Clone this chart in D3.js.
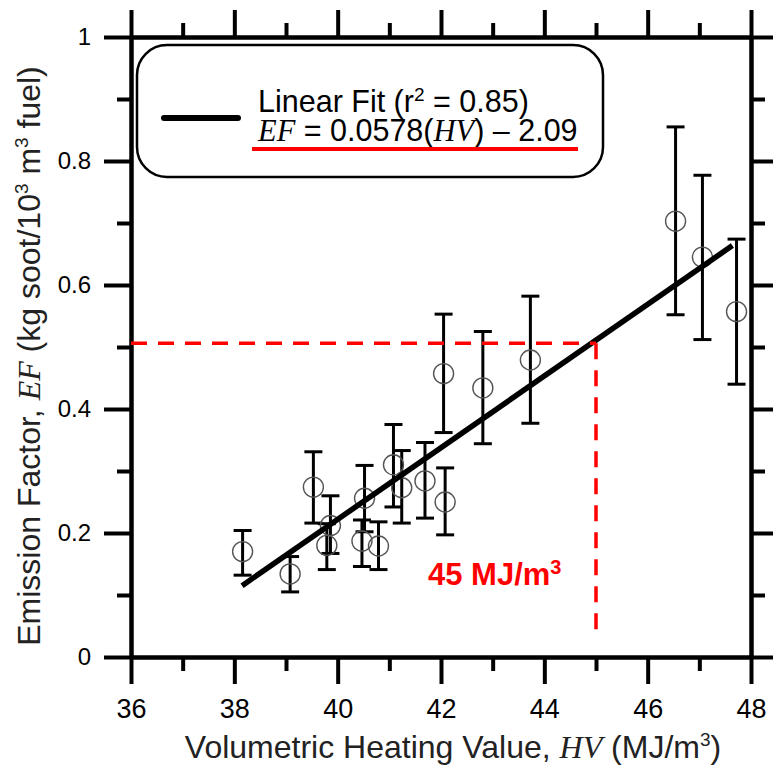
<!DOCTYPE html>
<html>
<head>
<meta charset="utf-8">
<script src="https://cdn.jsdelivr.net/npm/d3@7"></script>
<style>
  body { margin: 0; background: #fff; }
  text { font-family: "Liberation Sans", Arial, sans-serif; }
  .ital { font-family: "Liberation Serif", "Times New Roman", serif; font-style: italic; }
</style>
</head>
<body>
<script>
// heating value (MJ/m3) and emission factor (kg soot / 10^3 m3 fuel)
var hv    = [38.16, 39.08, 39.53, 39.79, 39.86, 40.47, 40.52, 40.79, 41.08, 41.24, 41.69, 42.08, 42.05, 42.81, 43.73, 46.54, 47.06, 47.72];
var ef    = [0.170, 0.134, 0.274, 0.180, 0.212, 0.187, 0.256, 0.179, 0.310, 0.273, 0.284, 0.250, 0.457, 0.434, 0.479, 0.703, 0.645, 0.557];
var efTop = [0.204, 0.162, 0.331, 0.215, 0.260, 0.221, 0.309, 0.218, 0.375, 0.333, 0.346, 0.305, 0.553, 0.525, 0.582, 0.855, 0.777, 0.674];
var efBot = [0.132, 0.105, 0.216, 0.141, 0.167, 0.146, 0.202, 0.141, 0.242, 0.216, 0.224, 0.197, 0.362, 0.344, 0.377, 0.552, 0.512, 0.440];

// linear fit EF = 0.0578(HV) - 2.09
var fitSlope = 0.0578, fitIntercept = -2.09;
var fitRange = [38.15, 47.64];

// marker for 45 MJ/m3
var markHV = 45, markEF = 0.506, markBottom = 0.03;

var xMajor = [36, 38, 40, 42, 44, 46, 48];
var xMinor = [37, 39, 41, 43, 45, 47];
var yMajor = [0, 0.2, 0.4, 0.6, 0.8, 1];
var yMinor = [0.1, 0.3, 0.5, 0.7, 0.9];

var W = 773, H = 765;
var mLeft = 131, mRight = 751, mTop = 37, mBottom = 657;

var svg = d3.select("body").append("svg")
  .attr("width", W)
  .attr("height", H);

var x = d3.scaleLinear().domain([36, 48]).range([mLeft, mRight]);
var y = d3.scaleLinear().domain([0, 1]).range([mBottom, mTop]);

function styleAxis(g) {
  g.select(".domain").attr("stroke", "#000").attr("stroke-width", 4);
  g.selectAll(".tick line").attr("stroke", "#000").attr("stroke-width", 4);
}

var yFmt = function(d) { return d === 0 || d === 1 ? d : d3.format(".1f")(d); };

// minor ticks
svg.append("g").attr("transform", "translate(" + mLeft + ",0)")
  .call(d3.axisLeft(y).tickValues(yMinor).tickSize(14).tickSizeOuter(0).tickFormat(""))
  .call(styleAxis);
svg.append("g").attr("transform", "translate(" + mRight + ",0)")
  .call(d3.axisRight(y).tickValues(yMinor).tickSize(14).tickSizeOuter(0).tickFormat(""))
  .call(styleAxis);
svg.append("g").attr("transform", "translate(0," + mBottom + ")")
  .call(d3.axisBottom(x).tickValues(xMinor).tickSize(14).tickSizeOuter(0).tickFormat(""))
  .call(styleAxis);
svg.append("g").attr("transform", "translate(0," + mTop + ")")
  .call(d3.axisTop(x).tickValues(xMinor).tickSize(14).tickSizeOuter(0).tickFormat(""))
  .call(styleAxis);

// major ticks
var yAx = svg.append("g").attr("transform", "translate(" + mLeft + ",0)")
  .call(d3.axisLeft(y).tickValues(yMajor).tickSize(27).tickSizeOuter(0).tickPadding(13).tickFormat(yFmt))
  .call(styleAxis);
yAx.selectAll("text").attr("font-size", 24).attr("fill", "#000")
  .style("font-family", "'Liberation Sans', Arial, sans-serif");

svg.append("g").attr("transform", "translate(" + mRight + ",0)")
  .call(d3.axisRight(y).tickValues(yMajor).tickSize(27).tickSizeOuter(0).tickFormat(""))
  .call(styleAxis);

var xAx = svg.append("g").attr("transform", "translate(0," + mBottom + ")")
  .call(d3.axisBottom(x).tickValues(xMajor).tickSize(27).tickSizeOuter(0).tickPadding(15))
  .call(styleAxis);
xAx.selectAll("text").attr("font-size", 27).attr("fill", "#000")
  .style("font-family", "'Liberation Sans', Arial, sans-serif");

svg.append("g").attr("transform", "translate(0," + mTop + ")")
  .call(d3.axisTop(x).tickValues(xMajor).tickSize(27).tickSizeOuter(0).tickFormat(""))
  .call(styleAxis);

// data
var pts = hv.map(function(d, i) { return { hv: d, ef: ef[i], hi: efTop[i], lo: efBot[i] }; });

var bars = svg.append("g").selectAll("g").data(pts).enter().append("g");
bars.append("line")
  .attr("x1", function(d) { return x(d.hv); }).attr("x2", function(d) { return x(d.hv); })
  .attr("y1", function(d) { return y(d.hi); }).attr("y2", function(d) { return y(d.lo); })
  .attr("stroke", "#000").attr("stroke-width", 3);
bars.append("line")
  .attr("x1", function(d) { return x(d.hv) - 9; }).attr("x2", function(d) { return x(d.hv) + 9; })
  .attr("y1", function(d) { return y(d.hi); }).attr("y2", function(d) { return y(d.hi); })
  .attr("stroke", "#000").attr("stroke-width", 3);
bars.append("line")
  .attr("x1", function(d) { return x(d.hv) - 9; }).attr("x2", function(d) { return x(d.hv) + 9; })
  .attr("y1", function(d) { return y(d.lo); }).attr("y2", function(d) { return y(d.lo); })
  .attr("stroke", "#000").attr("stroke-width", 3);

svg.append("g").selectAll("circle").data(pts).enter().append("circle")
  .attr("cx", function(d) { return x(d.hv); })
  .attr("cy", function(d) { return y(d.ef); })
  .attr("r", 10)
  .attr("fill", "none")
  .attr("stroke", "#555")
  .attr("stroke-width", 1.4);

// fit line
svg.append("path")
  .datum(fitRange)
  .attr("d", d3.line().x(function(d) { return x(d); }).y(function(d) { return y(fitSlope * d + fitIntercept); }))
  .attr("stroke", "#000").attr("stroke-width", 5.5).attr("fill", "none");

// red dashed guides
svg.append("line")
  .attr("x1", x(36)).attr("x2", x(markHV))
  .attr("y1", y(markEF)).attr("y2", y(markEF))
  .attr("stroke", "#ff0000").attr("stroke-width", 3.5).attr("stroke-dasharray", "16,11");
svg.append("line")
  .attr("x1", x(markHV)).attr("x2", x(markHV))
  .attr("y1", y(markEF)).attr("y2", y(markBottom))
  .attr("stroke", "#ff0000").attr("stroke-width", 3.5).attr("stroke-dasharray", "16,11");

var red = svg.append("text").attr("x", 428).attr("y", 585)
  .attr("fill", "#ff0000").attr("font-size", 31).attr("font-weight", "bold");
red.append("tspan").text("45 MJ/m");
red.append("tspan").attr("font-size", 20).attr("dy", -11).text("3");

// legend
svg.append("rect")
  .attr("x", 137).attr("y", 45).attr("width", 466).attr("height", 132)
  .attr("rx", 30).attr("ry", 30)
  .attr("fill", "#fff").attr("stroke", "#000").attr("stroke-width", 2.5);
svg.append("line")
  .attr("x1", 164).attr("x2", 238).attr("y1", 118).attr("y2", 118)
  .attr("stroke", "#000").attr("stroke-width", 6).attr("stroke-linecap", "round");
var l1 = svg.append("text").attr("x", 258).attr("y", 112).attr("font-size", 30.5);
l1.append("tspan").text("Linear Fit (r");
l1.append("tspan").attr("font-size", 19).attr("dy", -11).text("2");
l1.append("tspan").attr("dy", 11).text(" = 0.85)");
var l2 = svg.append("text").attr("x", 258).attr("y", 141).attr("font-size", 30.5);
l2.append("tspan").attr("class", "ital").text("EF");
l2.append("tspan").text(" = 0.0578(");
l2.append("tspan").attr("class", "ital").text("HV");
l2.append("tspan").text(") \u2013 2.09");
svg.append("line")
  .attr("x1", 252).attr("x2", 578).attr("y1", 149).attr("y2", 149)
  .attr("stroke", "#ff0000").attr("stroke-width", 4);

// axis titles
var xt = svg.append("text").attr("x", 453).attr("y", 758)
  .attr("text-anchor", "middle").attr("font-size", 32).attr("fill", "#222");
xt.append("tspan").text("Volumetric Heating Value, ");
xt.append("tspan").attr("class", "ital").text("HV");
xt.append("tspan").text(" (MJ/m");
xt.append("tspan").attr("font-size", 19).attr("dy", -12).text("3");
xt.append("tspan").attr("dy", 12).text(")");

var yt = svg.append("text")
  .attr("transform", "translate(40,356) rotate(-90)")
  .attr("text-anchor", "middle").attr("font-size", 32).attr("fill", "#222");
yt.append("tspan").text("Emission Factor, ");
yt.append("tspan").attr("class", "ital").text("EF");
yt.append("tspan").text(" (kg soot/10");
yt.append("tspan").attr("font-size", 19).attr("dy", -12).text("3");
yt.append("tspan").attr("dy", 12).text(" m");
yt.append("tspan").attr("font-size", 19).attr("dy", -12).text("3");
yt.append("tspan").attr("dy", 12).text(" fuel)");
</script>
</body>
</html>
